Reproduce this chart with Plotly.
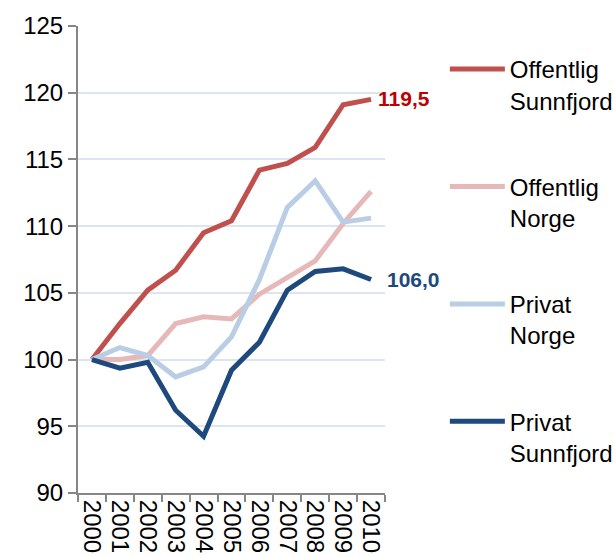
import plotly.graph_objects as go

years = ["2000", "2001", "2002", "2003", "2004", "2005", "2006", "2007", "2008", "2009", "2010"]
offentlig_sunnfjord = [100.0, 102.7, 105.2, 106.7, 109.5, 110.4, 114.2, 114.7, 115.9, 119.1, 119.5]
offentlig_norge = [100.0, 100.0, 100.3, 102.7, 103.2, 103.05, 104.9, 106.2, 107.4, 110.2, 112.6]
privat_norge = [100.0, 100.9, 100.3, 98.7, 99.45, 101.7, 106.0, 111.4, 113.4, 110.3, 110.6]
privat_sunnfjord = [100.0, 99.35, 99.8, 96.2, 94.25, 99.2, 101.3, 105.2, 106.6, 106.8, 106.0]

series_names = ["Offentlig<br>Sunnfjord", "Offentlig<br>Norge", "Privat<br>Norge", "Privat<br>Sunnfjord"]
series_values = [offentlig_sunnfjord, offentlig_norge, privat_norge, privat_sunnfjord]
line_colors = ["#C0504D", "#E6B9B8", "#B9CDE5", "#1F497D"]
label_colors = ["#C00000", None, None, "#1F497D"]
end_labels = ["119,5", None, None, "106,0"]
label_shift = [5, 0, 0, 14]
label_yshift = [1, 0, 0, 0]

FONT = "Liberation Sans, Arial, sans-serif"

fig = go.Figure()
for i, (name, vals, col) in enumerate(zip(series_names, series_values, line_colors)):
    fig.add_trace(go.Scatter(
        x=years, y=vals, name=name, mode="lines",
        line=dict(color=col, width=5),
        legendgroup=str(i),
    ))
    if end_labels[i]:
        fig.add_annotation(
            x=len(years) - 1, y=vals[-1], text="<b>" + end_labels[i] + "</b>",
            showarrow=False, xanchor="left", yanchor="middle",
            xshift=label_shift[i], yshift=label_yshift[i],
            font=dict(family=FONT, size=21, color=label_colors[i]),
        )

fig.update_layout(
    width=614, height=558,
    margin=dict(l=78, r=229, t=26, b=65, autoexpand=False),
    paper_bgcolor="white", plot_bgcolor="white",
    font=dict(family=FONT, size=24, color="#000000"),
    showlegend=True,
    legend=dict(
        x=1.195, y=0.955, xanchor="left", yanchor="top",
        traceorder="grouped", tracegroupgap=52,
        valign="top", font=dict(size=24, family=FONT, color="#000000"),
        bgcolor="rgba(0,0,0,0)", itemwidth=55,
    ),
    xaxis=dict(
        type="category", range=[-0.5, 10.5],
        tickmode="array", tickvals=years, ticktext=years,
        showline=True, linecolor="#868686", linewidth=2,
        ticks="outside", ticklen=7, tickcolor="#868686", tickwidth=2,
        tickson="boundaries", tickangle=90,
        showgrid=False, zeroline=False,
        tickfont=dict(size=24, family=FONT, color="#000000"),
        automargin=False,
    ),
    yaxis=dict(
        range=[90, 125], dtick=5, tick0=90,
        showline=True, linecolor="#868686", linewidth=2,
        ticks="outside", ticklen=8, tickcolor="#868686", tickwidth=2,
        showgrid=True, gridcolor="#DCE6F2", gridwidth=1.5,
        zeroline=False,
        tickfont=dict(size=24, family=FONT, color="#000000"),
        automargin=False,
    ),
)

fig.write_html(
    "out.html",
    config={"displayModeBar": False},
    post_script="document.body.style.margin='0';document.body.style.overflow='hidden';",
)
